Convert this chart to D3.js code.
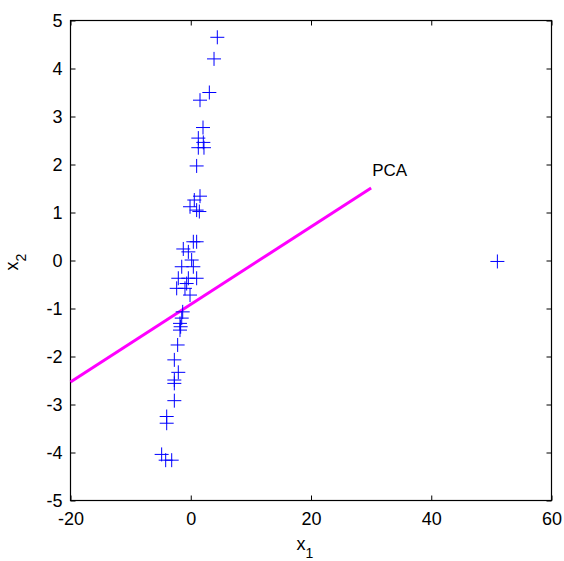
<!DOCTYPE html>
<html>
<head>
<meta charset="utf-8">
<script src="https://cdn.jsdelivr.net/npm/d3@7"></script>
<style>
  body { margin: 0; background: #fff; }
  text { font-family: "Liberation Sans", Arial, sans-serif; fill: #000; }
</style>
</head>
<body>
<div id="container"></div>
<script>
// scatter points
const xValues = [4.42, 3.87, 3.09, 1.54, 2.04, 1.26, 2.09, 1.26, 2.2, 0.98,
    1.54, 0.59, -0.12, 0.98, 1.43,
    0.98, 0.43, -1.24, -0.4, 0.15, 0.43, -1.5,
    -2.07, -0.4, 0.98, -0.68, -2.34, -0.96, -0.12,
    -1.34, -1.5, -1.79, -1.68, -1.79, -2.18, -2.73, -2.07, -2.73, -2.73, -2.73,
    -4.0, -4.0, -4.84, -4.17, -3.17, 51.0];
const yValues = [4.65, 4.2, 3.5, 3.34, 2.77, 2.55, 2.46, 2.35, 2.35, 1.97,
    1.34, 1.26, 1.12, 1.05, 1.02,
    0.39, 0.39, 0.24, 0.18, 0.01, -0.13, -0.13,
    -0.37, -0.37, -0.37, -0.48, -0.58, -0.58, -0.72,
    -1.07, -1.2, -1.31, -1.38, -1.45, -1.76, -2.07, -2.33, -2.49, -2.56, -2.92,
    -3.25, -3.39, -4.04, -4.16, -4.16, -0.02];
const pcaX = [-20, 30];
const pcaY = [-2.53, 1.51];
const xTicks = [-20, 0, 20, 40, 60];
const yTicks = [-5, -4, -3, -2, -1, 0, 1, 2, 3, 4, 5];

const points = xValues.map((x, i) => ({ x: x, y: yValues[i] }));

const svg = d3.select('#container').append('svg')
    .attr('width', 564)
    .attr('height', 561);

const plotLeft = 70.5, plotRight = 551.5, plotTop = 20.5, plotBottom = 500.5;

const xScale = d3.scaleLinear().domain([-20, 60]).range([plotLeft, plotRight]);
const yScale = d3.scaleLinear().domain([-5, 5]).range([plotBottom, plotTop]);

// MATLAB style box with inward ticks on all sides
const tick = 5;
const fmt = d => String(d);   // plain hyphen minus like the original

svg.append('g')
    .attr('transform', `translate(0, ${plotBottom})`)
    .call(d3.axisBottom(xScale).tickValues(xTicks).tickFormat(fmt).tickSize(-tick).tickPadding(12))
    .call(g => g.select('.domain').remove());
svg.append('g')
    .attr('transform', `translate(0, ${plotTop})`)
    .call(d3.axisTop(xScale).tickValues(xTicks).tickFormat('').tickSize(-tick))
    .call(g => g.select('.domain').remove());
svg.append('g')
    .attr('transform', `translate(${plotLeft}, 0)`)
    .call(d3.axisLeft(yScale).tickValues(yTicks).tickFormat(fmt).tickSize(-tick).tickPadding(8))
    .call(g => g.select('.domain').remove());
svg.append('g')
    .attr('transform', `translate(${plotRight}, 0)`)
    .call(d3.axisRight(yScale).tickValues(yTicks).tickFormat('').tickSize(-tick))
    .call(g => g.select('.domain').remove());

svg.selectAll('.tick text')
    .style('font-size', '18px');
svg.selectAll('.tick line')
    .attr('stroke', '#000');

svg.append('rect')
    .attr('x', plotLeft)
    .attr('y', plotTop)
    .attr('width', plotRight - plotLeft)
    .attr('height', plotBottom - plotTop)
    .attr('fill', 'none')
    .attr('stroke', '#000')
    .attr('stroke-width', 1.2);

// PCA direction
const line = d3.line()
    .x(d => xScale(d[0]))
    .y(d => yScale(d[1]));

svg.append('path')
    .datum(pcaX.map((x, i) => [x, pcaY[i]]))
    .attr('d', line)
    .attr('fill', 'none')
    .attr('stroke', '#ff00ff')
    .attr('stroke-width', 3);

svg.append('text')
    .attr('x', xScale(pcaX[1]) + 1)
    .attr('y', yScale(pcaY[1]) - 12)
    .style('font-size', '17px')
    .text('PCA');

// plus markers
const half = 7;
const marks = svg.append('g')
    .selectAll('g')
    .data(points)
    .enter()
    .append('g')
    .attr('transform', d => `translate(${xScale(d.x)}, ${yScale(d.y)})`);

marks.append('line')
    .attr('x1', -half).attr('x2', half)
    .attr('y1', 0).attr('y2', 0)
    .attr('stroke', '#0000ff');
marks.append('line')
    .attr('x1', 0).attr('x2', 0)
    .attr('y1', -half).attr('y2', half)
    .attr('stroke', '#0000ff');

// axis labels
const xLabel = svg.append('text')
    .attr('x', 305)
    .attr('y', 550)
    .attr('text-anchor', 'middle')
    .style('font-size', '18px');
xLabel.append('tspan').text('x');
xLabel.append('tspan').attr('dy', 8).style('font-size', '14px').text('1');

const yLabel = svg.append('text')
    .attr('transform', 'translate(18, 262) rotate(-90)')
    .attr('text-anchor', 'middle')
    .style('font-size', '18px');
yLabel.append('tspan').text('x');
yLabel.append('tspan').attr('dy', 8).style('font-size', '14px').text('2');
</script>
</body>
</html>
